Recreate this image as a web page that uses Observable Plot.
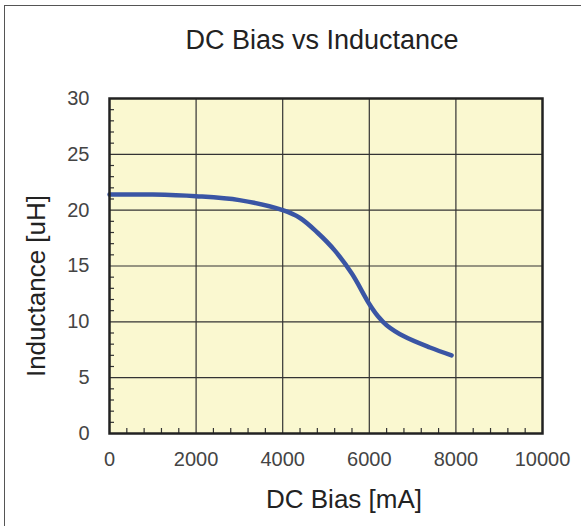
<!DOCTYPE html>
<html>
<head>
<meta charset="utf-8">
<script src="https://cdn.jsdelivr.net/npm/d3@7"></script>
<script src="https://cdn.jsdelivr.net/npm/@observablehq/plot@0.6"></script>
<style>
  html, body { margin: 0; padding: 0; background: #fff; }
  #wrap { position: relative; width: 581px; height: 526px; overflow: hidden; font-family: "Liberation Sans", Arial, sans-serif; color: #222; }
  #box { position: absolute; left: 4px; top: 5px; width: 590px; height: 540px; border-left: 1.5px solid #555; border-top: 1.5px solid #555; }
  .lbl { position: absolute; white-space: nowrap; transform: translate(-50%, -50%); font-size: 26px; }
  #title { left: 322px; top: 40px; font-size: 27px; }
  #xlabel { left: 344px; top: 499px; }
  #ylabel { left: 36px; top: 286px; transform: translate(-50%, -50%) rotate(-90deg); }
  #chart { position: absolute; left: 0; top: 0; }
  #chart svg text { font-family: "Liberation Sans", Arial, sans-serif !important; font-weight: 400 !important; font-variant: normal !important; stroke: none !important; text-rendering: optimizeLegibility; }
</style>
</head>
<body>
<div id="wrap">
  <div id="box"></div>
  <div id="chart"></div>
  <div class="lbl" id="title">DC Bias vs Inductance</div>
  <div class="lbl" id="xlabel">DC Bias [mA]</div>
  <div class="lbl" id="ylabel">Inductance [uH]</div>
</div>
<script>
// Data
const biasMA     = [0, 1000, 2000, 3000, 4000, 4400, 4800, 5200, 5600, 6000, 6200, 6400, 6800, 7400, 7900];
const inductance = [21.4, 21.4, 21.25, 20.9, 20.0, 19.3, 18.0, 16.4, 14.3, 11.6, 10.5, 9.7, 8.7, 7.7, 7.0];
const xTicks = [0, 2000, 4000, 6000, 8000, 10000];
const yTicks = [0, 5, 10, 15, 20, 25, 30];
const xMinor = d3.range(0, 10001, 400).filter(v => v % 2000 !== 0);
const yMinor = d3.range(0, 31, 1).filter(v => v % 5 !== 0);

const data = biasMA.map((x, i) => ({x, y: inductance[i]}));

const mT = 98, mB = 93, mL = 109, mR = 39, W = 581, H = 526;
const innerH = H - mT - mB, innerW = W - mL - mR;

const plot = Plot.plot({
  width: W, height: H,
  marginTop: mT, marginBottom: mB, marginLeft: mL, marginRight: mR,
  style: { fontFamily: "'Liberation Sans', Arial, sans-serif", fontSize: "20px", fontWeight: "normal", color: "#444", background: "transparent" },
  x: { domain: [0, 10000] },
  y: { domain: [0, 30] },
  marks: [
    Plot.frame({ fill: "#faf8d0", stroke: null }),
    Plot.ruleX(xTicks.slice(1, -1), { stroke: "#333", strokeWidth: 1.2 }),
    Plot.ruleY(yTicks.slice(1, -1), { stroke: "#333", strokeWidth: 1.2 }),
    Plot.tickX(xMinor, { x: d => d, stroke: "#333", strokeWidth: 1.2, insetTop: innerH - 5 }),
    Plot.tickY(yMinor, { y: d => d, stroke: "#333", strokeWidth: 1.2, insetRight: innerW - 5 }),
    Plot.line(data, { x: "x", y: "y", stroke: "#3a55a4", strokeWidth: 4.5, curve: "catmull-rom" }),
    Plot.frame({ stroke: "#222", strokeWidth: 2.5 }),
    Plot.axisX(xTicks, { tickSize: 0, tickPadding: 18, label: null, fontSize: 20, fill: "#444", tickFormat: d => String(d) }),
    Plot.axisY(yTicks, { tickSize: 0, tickPadding: 20, label: null, fontSize: 20, fill: "#444", tickFormat: d => String(d) })
  ]
});
document.getElementById("chart").appendChild(plot);
</script>
</body>
</html>
